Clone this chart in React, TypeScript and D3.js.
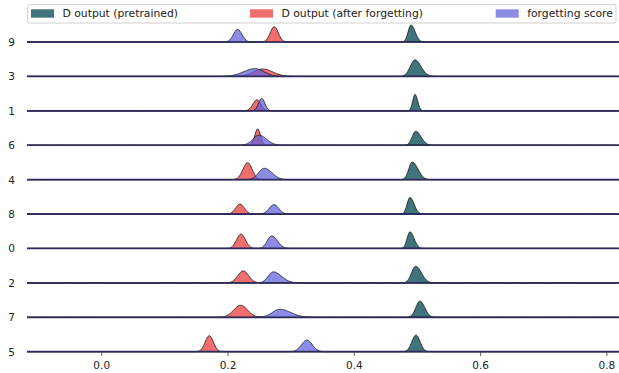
import React from "react";
import * as d3 from "d3";

// rows top to bottom
const labels = ["9", "3", "1", "6", "4", "8", "0", "2", "7", "5"];

// each curve: [centre, left spread, right spread, peak height]
const pretrained = [
  [0.4898, 0.0045, 0.0065, 0.85],
  [0.4961, 0.0074, 0.0095, 0.83],
  [0.4961, 0.0035, 0.0042, 0.82],
  [0.4972, 0.0055, 0.0085, 0.7],
  [0.4918, 0.0055, 0.009, 0.88],
  [0.4882, 0.0045, 0.0065, 0.83],
  [0.4882, 0.0045, 0.0065, 0.83],
  [0.4972, 0.0065, 0.009, 0.83],
  [0.504, 0.0065, 0.0075, 0.81],
  [0.4977, 0.0065, 0.0065, 0.83],
];
const afterForgetting = [
  [0.2733, 0.0063, 0.0063, 0.77],
  [0.255, 0.015, 0.016, 0.37],
  [0.246, 0.0065, 0.006, 0.55],
  [0.247, 0.0045, 0.0045, 0.82],
  [0.2312, 0.0075, 0.007, 0.85],
  [0.219, 0.0068, 0.0068, 0.5],
  [0.2206, 0.007, 0.007, 0.72],
  [0.2242, 0.0085, 0.0085, 0.6],
  [0.22, 0.011, 0.011, 0.6],
  [0.1704, 0.0065, 0.0065, 0.8],
];
const forgettingScore = [
  [0.2154, 0.0067, 0.0067, 0.63],
  [0.243, 0.018, 0.014, 0.39],
  [0.2534, 0.005, 0.005, 0.62],
  [0.249, 0.0095, 0.012, 0.5],
  [0.2575, 0.009, 0.012, 0.57],
  [0.2728, 0.0075, 0.0075, 0.47],
  [0.2692, 0.007, 0.009, 0.63],
  [0.2717, 0.008, 0.013, 0.55],
  [0.2823, 0.012, 0.017, 0.4],
  [0.325, 0.0085, 0.0085, 0.58],
];
const xTicks = [0.0, 0.2, 0.4, 0.6, 0.8];

const series = [
  { name: "D output (pretrained)", data: pretrained, fill: "#40737a", opacity: 1 },
  { name: "D output (after forgetting)", data: afterForgetting, fill: "#f06e6e", opacity: 1 },
  { name: "forgetting score", data: forgettingScore, fill: "#5f5fde", opacity: 0.72 },
];

const W = 619;
const H = 373;
const font = "DejaVu Sans, sans-serif";

export default function App() {
  const x = d3.scaleLinear().domain([-0.1183, 0.8192]).range([27, 619]);
  const row = d3.scalePoint<string>().domain(labels).range([42, 351.7]);
  const h = d3.scaleLinear().domain([0, 1]).range([0, 20]);
  const grid = d3.range(-0.1183, 0.8193, 0.001);

  const curve = (p: number[], base: number) => {
    const [m, sl, sr, peak] = p;
    const area = d3
      .area<number>()
      .x((v) => x(v))
      .y0(base)
      .y1((v) => {
        const s = v < m ? sl : sr;
        return base - h(peak * Math.exp(-0.5 * ((v - m) / s) ** 2));
      });
    const line = d3
      .line<number>()
      .x((v) => x(v))
      .y((v) => {
        const s = v < m ? sl : sr;
        return base - h(peak * Math.exp(-0.5 * ((v - m) / s) ** 2));
      });
    return { a: area(grid) || "", l: line(grid) || "" };
  };

  const legendPos = [31, 250, 495.7];

  return (
    <svg
      width={W}
      height={H}
      style={{ position: "absolute", left: 0, top: 0, display: "block" }}
      fontFamily={font}
    >
      <rect width={W} height={H} fill="white" />
      {labels.map((lab, i) => {
        const base = row(lab) as number;
        return (
          <g key={lab}>
            {series.map((s) => {
              const c = curve(s.data[i], base);
              return (
                <g key={s.name}>
                  <path d={c.a} fill={s.fill} fillOpacity={s.opacity} />
                  <path d={c.l} fill="none" stroke="#111" strokeWidth={0.9} strokeOpacity={0.85} />
                </g>
              );
            })}
            <line x1={27} x2={619} y1={base} y2={base} stroke="#2d2a5c" strokeWidth={1.7} />
            <text x={15} y={base + 4} textAnchor="end" fontSize={10.5} fill="#222">
              {lab}
            </text>
          </g>
        );
      })}
      {xTicks.map((t) => (
        <g key={t} transform={`translate(${x(t)},0)`}>
          <line y1={352.5} y2={356} stroke="#333" strokeWidth={0.8} />
          <text y={369} textAnchor="middle" fontSize={10.5} fill="#222">
            {d3.format(".1f")(t)}
          </text>
        </g>
      ))}
      <rect x={27.5} y={4.5} width={588.5} height={18.5} rx={2} fill="white" fillOpacity={0.8} stroke="#d0d0d0" />
      {series.map((s, i) => (
        <g key={s.name}>
          <rect x={legendPos[i]} y={9.3} width={23} height={8.4} fill={s.fill} fillOpacity={s.opacity} />
          <text x={legendPos[i] + 31.5} y={17.3} fontSize={10.8} fill="#222">
            {s.name}
          </text>
        </g>
      ))}
    </svg>
  );
}
